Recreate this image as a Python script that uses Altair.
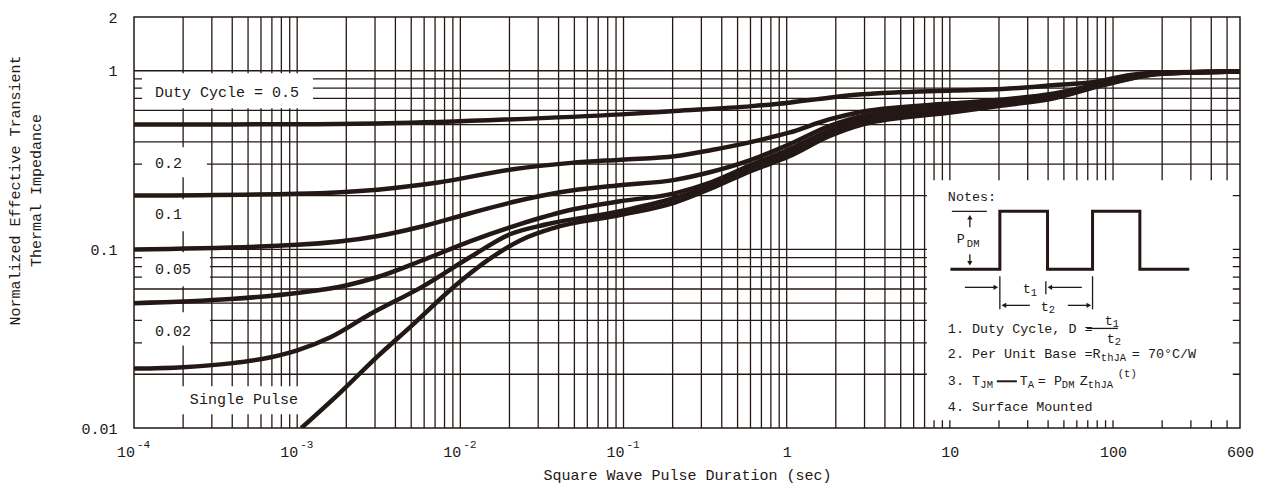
import altair as alt
import pandas as pd

INK = "#231815"
FONT = "Liberation Mono"

# ---------------- axis ticks / grid ----------------
x_tick_values = [1, 10, 100, 600]
x_tick_labels = ["1", "10", "100", "600"]
x_pow_values = [1e-4, 1e-3, 1e-2, 1e-1]
x_pow_base = ["10", "10", "10", "10"]
x_pow_exp = ["-4", "-3", "-2", "-1"]
y_tick_values = [0.01, 0.1, 1, 2]
y_tick_labels = ["0.01", "0.1", "1", "2"]
y_min = 0.01

x_grid = [m * 10.0 ** k for k in range(-4, 2) for m in range(1, 10)][1:] + [100, 200, 300, 400, 500]
y_grid = [m * 10.0 ** k for k in (-2, -1) for m in range(1, 10)][1:] + [1]

# ---------------- curves ----------------
d05_x = [1e-4, 1e-3, 3.1e-3, 0.0148, 0.097, 0.206, 0.611, 1.03, 1.82, 2.9, 10.4, 21, 42.7, 86.5, 104, 194, 600]
d05_y = [0.5, 0.502, 0.507, 0.529, 0.57, 0.595, 0.634, 0.663, 0.707, 0.738, 0.775, 0.79, 0.83, 0.88, 0.915, 0.978, 0.99]

d02_x = [1e-4, 1e-3, 3.1e-3, 7.3e-3, 0.0205, 0.0478, 0.097, 0.206, 0.347, 0.611, 1.03, 1.82, 2.9, 10.4, 21, 42.7, 86.5, 194, 600]
d02_y = [0.2, 0.205, 0.216, 0.237, 0.28, 0.305, 0.318, 0.332, 0.36, 0.40, 0.45, 0.534, 0.59, 0.657, 0.69, 0.745, 0.85, 0.97, 0.99]

d01_x = [1e-4, 1e-3, 3.08e-3, 5.9e-3, 0.01145, 0.022, 0.0408, 0.0951, 0.206, 0.347, 0.611, 1.03, 1.82, 2.9, 10.4, 21, 42.7, 86.5, 194, 600]
d01_y = [0.1, 0.106, 0.1184, 0.1347, 0.1593, 0.1859, 0.2088, 0.2285, 0.245, 0.272, 0.318, 0.386, 0.49, 0.557, 0.632, 0.67, 0.733, 0.845, 0.968, 0.99]

d005_x = [1e-4, 3.9e-4, 1e-3, 2.02e-3, 3.08e-3, 5.66e-3, 0.01145, 0.022, 0.0493, 0.0951, 0.206, 0.347, 0.611, 1.03, 1.82, 2.9, 10.4, 21, 42.7, 86.5, 194, 600]
d005_y = [0.05, 0.0527, 0.057, 0.063, 0.0698, 0.0858, 0.111, 0.1364, 0.1677, 0.1859, 0.206, 0.238, 0.298, 0.362, 0.463, 0.541, 0.612, 0.655, 0.72, 0.84, 0.965, 0.99]

d002_x = [1e-4, 2e-4, 3.9e-4, 6.9e-4, 1e-3, 1.6e-3, 2.79e-3, 5.9e-3, 0.01145, 0.0201, 0.0339, 0.0951, 0.206, 0.347, 0.611, 1.03, 1.82, 2.9, 10.4, 21, 42.7, 86.5, 194, 600]
d002_y = [0.0215, 0.0219, 0.023, 0.0249, 0.0272, 0.0322, 0.0433, 0.0621, 0.0903, 0.1215, 0.1382, 0.1634, 0.194, 0.227, 0.287, 0.344, 0.446, 0.52, 0.596, 0.645, 0.71, 0.835, 0.962, 0.99]

single_x = [1.06e-3, 1.85e-3, 3.1e-3, 5e-3, 9.1e-3, 0.0148, 0.0236, 0.0376, 0.097, 0.206, 0.347, 0.611, 1.03, 1.82, 2.9, 10.4, 21, 42.7, 86.5, 194, 600]
single_y = [0.01, 0.0159, 0.0251, 0.0372, 0.0616, 0.0873, 0.113, 0.132, 0.156, 0.183, 0.22, 0.276, 0.331, 0.43, 0.50, 0.585, 0.638, 0.70, 0.83, 0.96, 0.99]

series = {
    "0.5": (d05_x, d05_y),
    "0.2": (d02_x, d02_y),
    "0.1": (d01_x, d01_y),
    "0.05": (d005_x, d005_y),
    "0.02": (d002_x, d002_y),
    "single": (single_x, single_y),
}

# ---------------- curve labels ----------------
lab_text = ["Duty Cycle = 0.5", "0.2", "0.1", "0.05", "0.02", "Single Pulse"]
lab_x = [1.345e-4, 1.345e-4, 1.345e-4, 1.345e-4, 1.345e-4, 2.20e-4]
lab_y = [0.761, 0.306, 0.1572, 0.0774, 0.0349, 0.01447]
box_x1 = [1.12e-4, 1.12e-4, 1.12e-4, 1.12e-4, 1.12e-4, 1.12e-4]
box_x2 = [1.25e-3, 2.80e-4, 2.80e-4, 2.92e-4, 2.92e-4, 1.116e-3]
box_y1 = [0.617, 0.2533, 0.1263, 0.0621, 0.0290, 0.01193]
box_y2 = [0.968, 0.373, 0.1908, 0.0963, 0.0444, 0.01712]

# notes inset area
notes_box = {"x1": [7.23], "x2": [542.0], "y1": [0.01104], "y2": [0.2437]}
wave_x = [10.29, 20.25, 20.25, 39.68, 39.68, 74.9, 74.9, 146.0, 146.0, 287.0]
wave_y = [0.0774, 0.0774, 0.1634, 0.1634, 0.0774, 0.0774, 0.1634, 0.1634, 0.0774, 0.0774]

seg_x1 = [10.29, 13.26, 13.26, 20.25, 38.74, 74.9, 12.36, 41.0, 21.43, 52.84, 69.10]
seg_x2 = [16.85, 13.26, 13.26, 20.25, 38.74, 74.9, 19.13, 64.38, 30.92, 71.08, 106.99]
seg_y1 = [0.1634, 0.1512, 0.0939, 0.0707, 0.0663, 0.0707, 0.0613, 0.0613, 0.0486, 0.0486, 0.0361]
seg_y2 = [0.1634, 0.1330, 0.0836, 0.0462, 0.0561, 0.0462, 0.0613, 0.0613, 0.0486, 0.0486, 0.0361]

dash_x1, dash_x2, dash_y = [19.41], [25.74], [0.01826]

head_x = [13.26, 13.26, 19.13, 41.0, 21.43, 71.08]
head_y = [0.1512, 0.0836, 0.0613, 0.0613, 0.0486, 0.0486]
head_shape = ["triangle-up", "triangle-down", "triangle-right", "triangle-left", "triangle-left", "triangle-right"]

main_text = ["Notes:", "P", "t", "t", "1. Duty Cycle, D =", "t", "t", "2. Per Unit Base =R", "= 70°C/W",
             "3. T", "T", "= P", "Z", "4. Surface Mounted"]
main_x = [9.72, 11.04, 28.01, 36.11, 9.72, 89.06, 91.62, 9.72, 130.38, 9.72, 26.85, 34.61, 62.60, 9.72]
main_y = [0.1957, 0.1139, 0.0598, 0.0477, 0.0357, 0.0396, 0.0314, 0.0259, 0.0259,
          0.01826, 0.01826, 0.01826, 0.01826, 0.01306]

sub_text = ["DM", "1", "2", "1", "2", "thJA", "JM", "A", "DM", "thJA", "(t)"]
sub_x = [12.71, 31.36, 40.43, 99.7, 102.6, 84.18, 15.38, 30.05, 48.57, 70.08, 106.99]
sub_y = [0.1068, 0.0568, 0.0456, 0.0381, 0.0302, 0.0246, 0.01734, 0.01734, 0.01734, 0.01734, 0.0200]


def label_expr(values, labels):
    expr = "''"
    for v, l in reversed(list(zip(values, labels))):
        expr = f"datum.value == {v!r} ? '{l}' : {expr}"
    return expr


xs = alt.Scale(type="log", domain=[1e-4, 600], nice=False)
ys = alt.Scale(type="log", domain=[0.01, 2], nice=False)

x_axis = alt.Axis(
    values=x_tick_values, labelExpr=label_expr(x_tick_values, x_tick_labels),
    title="Square Wave  Pulse Duration (sec)", grid=False, ticks=False, tickSize=0, domain=False,
    labelPadding=16, labelFont=FONT, labelFontSize=15, labelColor=INK, labelFlush=False,
    labelOverlap=False, titleFont=FONT, titleFontSize=15, titleFontWeight="normal",
    titleColor=INK, titleY=46, titleBaseline="middle",
)
y_axis = alt.Axis(
    values=y_tick_values, labelExpr=label_expr(y_tick_values, y_tick_labels),
    title=["Normalized Effective Transient", "Thermal Impedance"], grid=False, ticks=False,
    tickSize=0, domain=False, labelPadding=17, labelFont=FONT, labelFontSize=15,
    labelColor=INK, labelFlush=False, labelOverlap=False, titleFont=FONT, titleFontSize=15,
    titleFontWeight="normal", titleColor=INK, titleAngle=270, titleX=-120, titleY=173,
    titleAlign="center", titleBaseline="middle", titleLineHeight=21,
)


def X(f):
    return alt.X(f, type="quantitative", scale=xs, axis=x_axis)


def Y(f):
    return alt.Y(f, type="quantitative", scale=ys, axis=y_axis)


rows = []
for name, (sx, sy) in series.items():
    for a, b in zip(sx, sy):
        rows.append({"series": name, "x": a, "y": b})
curve_df = pd.DataFrame(rows)

vgrid = alt.Chart(pd.DataFrame({"x": x_grid})).mark_rule(color=INK, strokeWidth=1.3).encode(x=X("x"))
hgrid = alt.Chart(pd.DataFrame({"y": y_grid})).mark_rule(color=INK, strokeWidth=1.3).encode(y=Y("y"))

boxes = alt.Chart(pd.DataFrame({"x1": box_x1, "x2": box_x2, "y1": box_y1, "y2": box_y2})).mark_rect(
    fill="white").encode(x=X("x1"), x2="x2", y=Y("y1"), y2="y2")
nbox = alt.Chart(pd.DataFrame(notes_box)).mark_rect(fill="white").encode(
    x=X("x1"), x2="x2", y=Y("y1"), y2="y2")

curves = alt.Chart(curve_df).mark_line(color=INK, strokeWidth=4.5, interpolate="monotone", clip=True).encode(
    x=X("x"), y=Y("y"), detail="series:N")

labels = alt.Chart(pd.DataFrame({"x": lab_x, "y": lab_y, "t": lab_text})).mark_text(
    font=FONT, fontSize=15, align="left", baseline="middle", color=INK).encode(
    x=X("x"), y=Y("y"), text="t:N")

pow_df = pd.DataFrame({"x": x_pow_values, "y": [y_min] * len(x_pow_values), "b": x_pow_base, "e": x_pow_exp})
pow_base = alt.Chart(pow_df).mark_text(
    font=FONT, fontSize=15, align="right", baseline="middle", color=INK, dx=1, dy=24).encode(
    x=X("x"), y=Y("y"), text="b:N")
pow_exp = alt.Chart(pow_df).mark_text(
    font=FONT, fontSize=11, align="left", baseline="middle", color=INK, dx=3, dy=17).encode(
    x=X("x"), y=Y("y"), text="e:N")

wave = alt.Chart(pd.DataFrame({"x": wave_x, "y": wave_y, "i": list(range(len(wave_x)))})).mark_line(
    color=INK, strokeWidth=3, strokeJoin="miter", strokeCap="square").encode(x=X("x"), y=Y("y"), order="i:Q")

segs = alt.Chart(pd.DataFrame({"x1": seg_x1, "x2": seg_x2, "y1": seg_y1, "y2": seg_y2})).mark_rule(
    color=INK, strokeWidth=1.3).encode(x=X("x1"), x2="x2", y=Y("y1"), y2="y2")
dash = alt.Chart(pd.DataFrame({"x1": dash_x1, "x2": dash_x2, "y1": dash_y})).mark_rule(
    color=INK, strokeWidth=2).encode(x=X("x1"), x2="x2", y=Y("y1"))

heads = alt.Chart(pd.DataFrame({"x": head_x, "y": head_y, "s": head_shape})).mark_point(
    filled=True, color=INK, size=28, opacity=1).encode(
    x=X("x"), y=Y("y"), shape=alt.Shape("s:N", scale=None))

tmain = alt.Chart(pd.DataFrame({"x": main_x, "y": main_y, "t": main_text})).mark_text(
    font=FONT, fontSize=13.4, align="left", baseline="middle", color=INK).encode(
    x=X("x"), y=Y("y"), text="t:N")
tsub = alt.Chart(pd.DataFrame({"x": sub_x, "y": sub_y, "t": sub_text})).mark_text(
    font=FONT, fontSize=10.5, align="left", baseline="middle", color=INK).encode(
    x=X("x"), y=Y("y"), text="t:N")

chart = alt.layer(vgrid, hgrid, boxes, nbox, curves, labels, pow_base, pow_exp,
                  wave, segs, dash, heads, tmain, tsub).properties(
    width=1106, height=411,
    padding={"left": 126, "top": 9, "right": 15, "bottom": 57},
    autosize=alt.AutoSizeParams(type="none"),
    background="white",
).configure_view(stroke=INK, strokeWidth=1.5)

chart.save("out.html", embed_options={"renderer": "svg", "actions": False})
